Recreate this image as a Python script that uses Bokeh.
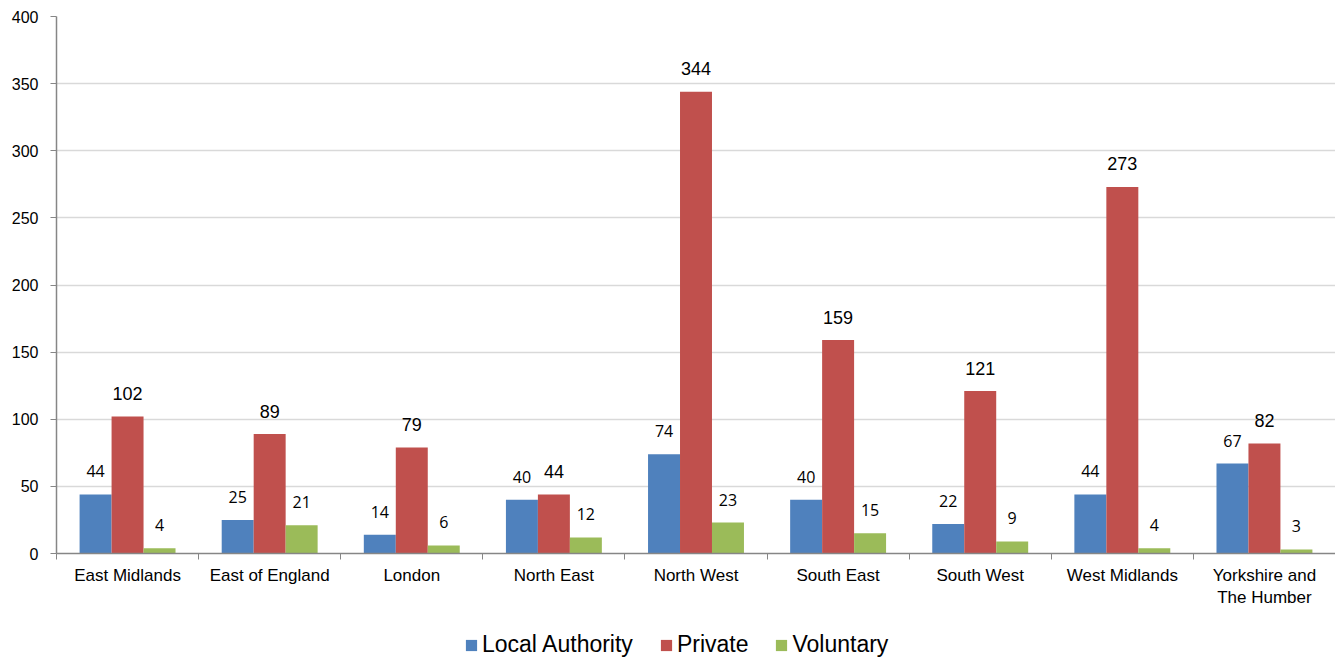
from bokeh.plotting import figure
from bokeh.layouts import column
from bokeh.models import (ColumnDataSource, FixedTicker, SingleIntervalTicker, Range1d,
                          Legend, LegendItem)
from bokeh.transform import dodge
from bokeh.core.properties import value
from bokeh.embed import file_html
from bokeh.resources import INLINE

regions = ["East Midlands", "East of England", "London", "North East", "North West",
           "South East", "South West", "West Midlands", "Yorkshire and\nThe Humber"]
series_names = ["Local Authority", "Private", "Voluntary"]
local_authority = [44, 25, 14, 40, 74, 40, 22, 44, 67]
private = [102, 89, 79, 44, 344, 159, 121, 273, 82]
voluntary = [4, 21, 6, 12, 23, 15, 9, 4, 3]
y_ticks_interval = 50

BLUE, RED, GREEN = "#4F81BD", "#C0504D", "#9BBB59"
AXIS = "#868686"

centers = [i + 0.5 for i in range(len(regions))]
src = ColumnDataSource(dict(x=centers, la=local_authority, pr=private, vo=voluntary,
                            la_t=[str(v) for v in local_authority],
                            pr_t=[str(v) for v in private],
                            vo_t=[str(v) for v in voluntary]))

p = figure(width=1335, height=612, output_backend="svg", toolbar_location=None,
           x_range=Range1d(0, len(regions)), y_range=Range1d(0, 400),
           min_border_left=56, min_border_top=16, min_border_right=0, min_border_bottom=59)
p.outline_line_color = None
p.background_fill_color = "white"
p.border_fill_color = "white"

W = 0.225
p.vbar(x=dodge("x", -W, range=p.x_range), top="la", width=W, source=src,
       fill_color=BLUE, line_color=None)
p.vbar(x="x", top="pr", width=W, source=src, fill_color=RED, line_color=None)
p.vbar(x=dodge("x", W, range=p.x_range), top="vo", width=W, source=src,
       fill_color=GREEN, line_color=None)

small_font = value("Open Sans")
p.text(x=dodge("x", -W, range=p.x_range), y="la", text="la_t", source=src,
       text_font=small_font, text_font_size="16px", text_align="center",
       text_baseline="middle", y_offset=-23, text_color="#000000")
p.text(x="x", y="pr", text="pr_t", source=src,
       text_font=value("Liberation Sans"), text_font_size="18px", text_align="center",
       text_baseline="middle", y_offset=-23, text_color="#000000")
p.text(x=dodge("x", W, range=p.x_range), y="vo", text="vo_t", source=src,
       text_font=small_font, text_font_size="16px", text_align="center",
       text_baseline="middle", y_offset=-23, text_color="#000000")

# x axis
xa = p.xaxis[0]
xa.ticker = FixedTicker(ticks=centers, minor_ticks=list(range(0, len(regions))))
xa.major_label_overrides = {c: r for c, r in zip(centers, regions)}
xa.major_tick_out = 0
xa.major_tick_in = 0
xa.minor_tick_out = 6
xa.minor_tick_in = 0
xa.minor_tick_line_color = AXIS
xa.axis_line_color = AXIS
xa.axis_line_width = 1.5
xa.major_label_text_font = "Liberation Sans"
xa.major_label_text_font_size = "17px"
xa.major_label_text_color = "#000000"
xa.major_label_standoff = 6

# y axis
ya = p.yaxis[0]
ya.ticker = SingleIntervalTicker(interval=y_ticks_interval, num_minor_ticks=0)
ya.major_tick_out = 6
ya.major_tick_in = 0
ya.minor_tick_out = 0
ya.minor_tick_in = 0
ya.major_tick_line_color = AXIS
ya.axis_line_color = AXIS
ya.axis_line_width = 1.5
ya.major_label_text_font = "Liberation Sans"
ya.major_label_text_font_size = "16px"
ya.major_label_text_color = "#000000"
ya.major_label_standoff = 12

p.xgrid.grid_line_color = None
p.ygrid.grid_line_color = "#D9D9D9"
p.ygrid.grid_line_width = 1.5

# legend strip (its bars lie outside its visible y range, only the legend shows)
lg = figure(width=1335, height=46, output_backend="svg", toolbar_location=None,
            x_range=Range1d(0, len(regions)), y_range=Range1d(10000, 10001),
            x_axis_type=None, y_axis_type=None,
            min_border_left=0, min_border_right=0, min_border_top=0, min_border_bottom=0)
lg.outline_line_color = None
lg.xgrid.grid_line_color = None
lg.ygrid.grid_line_color = None
items = []
for name, col, field in zip(series_names, [BLUE, RED, GREEN], ["la", "pr", "vo"]):
    r = lg.vbar(x="x", top=field, width=W, source=src, fill_color=col, line_color=None)
    items.append(LegendItem(label=name, renderers=[r]))
legend = Legend(items=items, orientation="horizontal", location=(408, 0),
                padding=0, margin=0, spacing=26, label_standoff=4,
                glyph_width=14, glyph_height=14,
                label_text_font="Liberation Sans", label_text_font_size="23px",
                label_text_color="#000000",
                background_fill_alpha=0, border_line_color=None)
lg.add_layout(legend)

layout = column(p, lg, spacing=0)
open("out.html", "w").write(file_html(layout, INLINE))
